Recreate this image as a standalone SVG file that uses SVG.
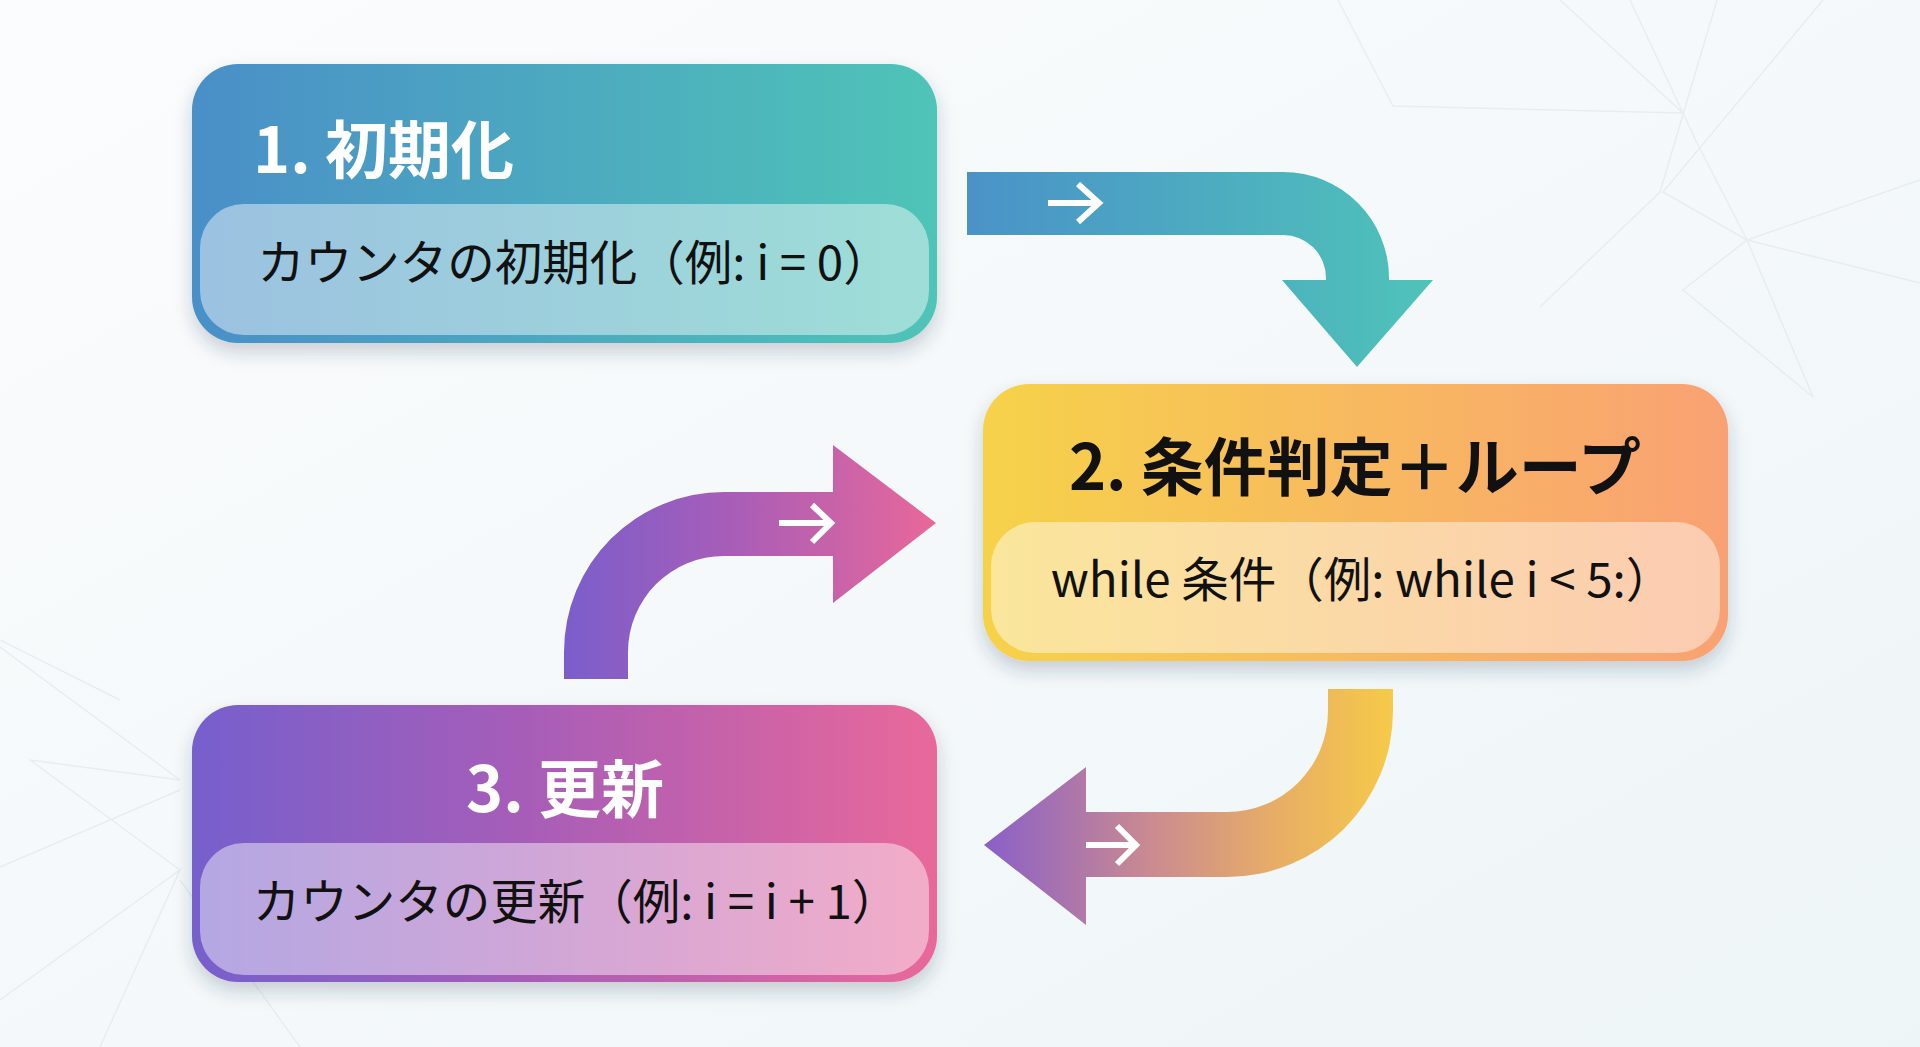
<svg xmlns="http://www.w3.org/2000/svg" width="1920" height="1047" viewBox="0 0 1920 1047">
  <defs>
    <linearGradient id="bg" x1="0" y1="0" x2="1" y2="1">
      <stop offset="0" stop-color="#fbfcfd"/>
      <stop offset="1" stop-color="#eef5f7"/>
    </linearGradient>
    <linearGradient id="g1" x1="0" y1="0" x2="1" y2="0">
      <stop offset="0" stop-color="#4a8fc8"/>
      <stop offset="1" stop-color="#4fc4b7"/>
    </linearGradient>
    <linearGradient id="g2" x1="0" y1="0" x2="1" y2="0">
      <stop offset="0" stop-color="#f6d24a"/>
      <stop offset="1" stop-color="#f9a173"/>
    </linearGradient>
    <linearGradient id="g3" x1="0" y1="0" x2="1" y2="0">
      <stop offset="0" stop-color="#765fcc"/>
      <stop offset="0.45" stop-color="#a75db8"/>
      <stop offset="1" stop-color="#e9689a"/>
    </linearGradient>
    <linearGradient id="a1" gradientUnits="userSpaceOnUse" x1="967" y1="0" x2="1433" y2="0">
      <stop offset="0" stop-color="#4a92c8"/>
      <stop offset="1" stop-color="#4fc3b9"/>
    </linearGradient>
    <linearGradient id="a2" gradientUnits="userSpaceOnUse" x1="564" y1="0" x2="936" y2="0">
      <stop offset="0" stop-color="#7a5ecb"/>
      <stop offset="0.45" stop-color="#a85db8"/>
      <stop offset="1" stop-color="#e8689a"/>
    </linearGradient>
    <linearGradient id="a3" gradientUnits="userSpaceOnUse" x1="1393" y1="0" x2="984" y2="0">
      <stop offset="0" stop-color="#f6ca48"/>
      <stop offset="0.3" stop-color="#e6ac68"/>
      <stop offset="0.6" stop-color="#c98a92"/>
      <stop offset="1" stop-color="#8a5fc8"/>
    </linearGradient>
    <filter id="sh" x="-10%" y="-10%" width="120%" height="130%">
      <feDropShadow dx="0" dy="9" stdDeviation="9" flood-color="#2a3a48" flood-opacity="0.22"/>
    </filter>
    <style>
      .title{font-family:"Noto Sans CJK JP","Noto Sans",sans-serif;font-weight:700;font-size:63px}
      .sub{font-family:"Noto Sans CJK JP","Noto Sans",sans-serif;font-weight:400;font-size:47.5px;fill:#111;text-anchor:middle}
      .panel{fill:#ffffff;fill-opacity:0.45}
      .mini{fill:none;stroke:#ffffff;stroke-width:6;stroke-linejoin:miter}
      .bgl{fill:none;stroke:#e3e9ed;stroke-width:1.5;opacity:0.75}
    </style>
  </defs>

  <rect x="0" y="0" width="1920" height="1047" fill="url(#bg)"/>
  <g id="background-lines" class="bgl">
    <polyline points="1338,0 1393,106 1683,113 1560,0"/>
    <polyline points="1630,0 1697,143 1747,240 1813,397"/>
    <polyline points="1717,0 1660,192 1540,307"/>
    <polyline points="1823,0 1663,192 1747,240 1920,283"/>
    <polyline points="1920,180 1747,240 1683,290 1813,397"/>
    <polyline points="0,647 180,780 30,760 180,870"/>
    <polyline points="0,867 180,790"/>
    <polyline points="0,1000 180,870 100,1047"/>
    <polyline points="180,880 300,1047"/>
    <polyline points="0,640 120,700"/>
  </g>

  <g id="connectors">
    <g id="arrow-1-to-2">
      <path d="M967,172 H1283 A106,106 0 0 1 1389,278 V280 H1433 L1357,367 L1282,280 H1326 V278 A43,43 0 0 0 1283,235 H967 Z" fill="url(#a1)"/>
      <path class="mini" d="M1048,203 H1099 M1078,184 L1099,203 L1078,222"/>
    </g>
    <g id="arrow-3-to-2">
      <path d="M564,679 V652 A160,160 0 0 1 724,492 H833 V445 L936,523 L833,603 V556 H724 A96,96 0 0 0 628,652 V679 Z" fill="url(#a2)"/>
      <path class="mini" d="M779,523 H830 M812,505 L831,523 L812,542"/>
    </g>
    <g id="arrow-2-to-3">
      <path d="M1328,689 H1393 V711 A166,166 0 0 1 1227,877 H1086 V925 L984,845 L1086,767 V812 H1227 A101,101 0 0 0 1328,711 Z" fill="url(#a3)"/>
      <path class="mini" d="M1086,845 H1136 M1117,826 L1136,845 L1117,864"/>
    </g>
  </g>

  <g id="node-1">
    <rect x="192" y="64" width="745" height="279" rx="46" fill="url(#g1)" filter="url(#sh)"/>
    <rect class="panel" x="200" y="204" width="729" height="131" rx="44"/>
    <text class="title" x="253" y="173" fill="#ffffff">1. 初期化</text>
    <text class="sub" x="574" y="280">カウンタの初期化（例: i = 0）</text>
  </g>

  <g id="node-2">
    <rect x="983" y="384" width="745" height="277" rx="46" fill="url(#g2)" filter="url(#sh)"/>
    <rect class="panel" x="991" y="522" width="729" height="131" rx="44" fill-opacity="0.5"/>
    <text class="title" x="1355" y="490" fill="#111111" text-anchor="middle">2. 条件判定＋ループ</text>
    <text class="sub" x="1362" y="597">while 条件（例: while i &lt; 5:）</text>
  </g>

  <g id="node-3">
    <rect x="192" y="705" width="745" height="277" rx="46" fill="url(#g3)" filter="url(#sh)"/>
    <rect class="panel" x="200" y="843" width="729" height="132" rx="44"/>
    <text class="title" x="565" y="812" fill="#ffffff" text-anchor="middle">3. 更新</text>
    <text class="sub" x="576" y="919">カウンタの更新（例: i = i + 1）</text>
  </g>
</svg>
